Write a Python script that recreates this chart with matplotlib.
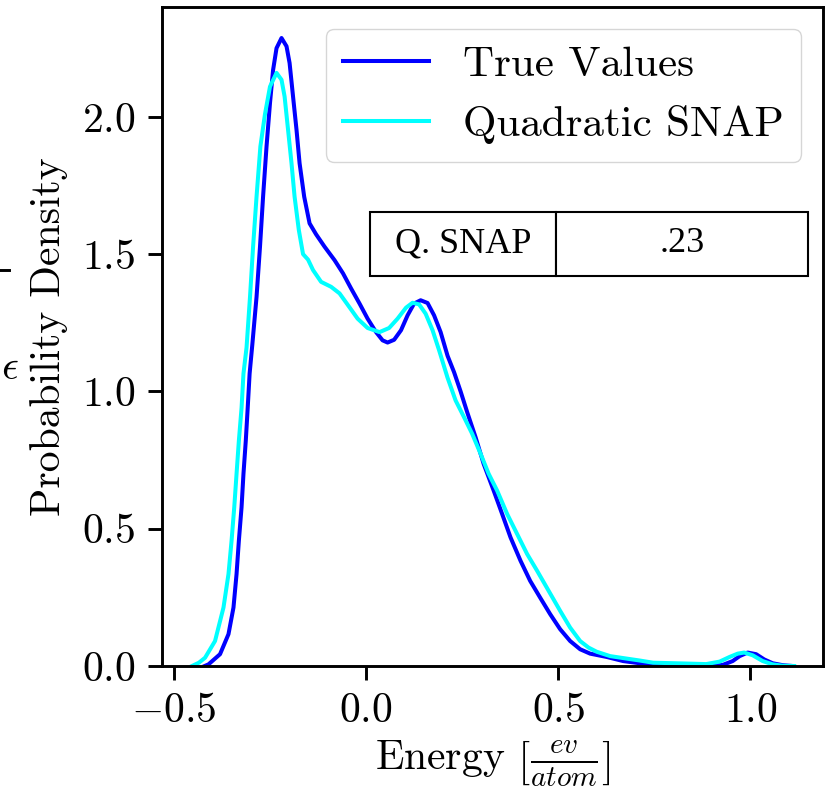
import numpy as np
import matplotlib
matplotlib.use("Agg")
import matplotlib.pyplot as plt
from matplotlib.lines import Line2D
from matplotlib import font_manager as fm

plt.rcParams['font.family'] = 'serif'
plt.rcParams['font.serif'] = ['cmr10']
plt.rcParams['mathtext.fontset'] = 'cm'
plt.rcParams['axes.formatter.use_mathtext'] = True
plt.rcParams['axes.unicode_minus'] = True

# KDE curves (energy in ev/atom, density)
true_x = [-0.42, -0.41, -0.38, -0.358, -0.345, -0.337, -0.331, -0.324, -0.319, -0.313,
          -0.308, -0.303, -0.296, -0.285, -0.276, -0.268, -0.259, -0.25, -0.242, -0.233,
          -0.22, -0.207, -0.199, -0.19, -0.181, -0.173, -0.161, -0.147, -0.13, -0.108,
          -0.082, -0.06, -0.039, -0.017, 0.004, 0.026, 0.043, 0.056, 0.073, 0.091,
          0.108, 0.125, 0.142, 0.16, 0.177, 0.194, 0.212, 0.229, 0.246, 0.263,
          0.285, 0.306, 0.332, 0.354, 0.376, 0.402, 0.427, 0.453, 0.479, 0.505,
          0.531, 0.557, 0.583, 0.626, 0.669, 0.712, 0.747, 0.833, 0.902, 0.928,
          0.954, 0.972, 0.993, 1.015, 1.036, 1.058, 1.084, 1.11]
true_y = [0.0, 0.006, 0.043, 0.116, 0.213, 0.335, 0.456, 0.578, 0.70, 0.82,
          0.94, 1.065, 1.17, 1.344, 1.527, 1.709, 1.892, 2.05, 2.17, 2.25,
          2.287, 2.257, 2.196, 2.074, 1.953, 1.831, 1.709, 1.612, 1.572, 1.527,
          1.478, 1.43, 1.375, 1.32, 1.265, 1.216, 1.186, 1.178, 1.188, 1.223,
          1.277, 1.32, 1.332, 1.322, 1.277, 1.216, 1.13, 1.07, 1.0, 0.925,
          0.833, 0.736, 0.639, 0.554, 0.468, 0.383, 0.31, 0.249, 0.189, 0.134,
          0.091, 0.061, 0.045, 0.033, 0.018, 0.01, 0.008, 0.005, 0.001, 0.004,
          0.018, 0.036, 0.049, 0.043, 0.024, 0.01, 0.003, 0.0]

snap_x = [-0.453, -0.435, -0.419, -0.393, -0.371, -0.358, -0.35, -0.343, -0.337, -0.331,
          -0.324, -0.319, -0.311, -0.302, -0.294, -0.285, -0.275, -0.263, -0.25, -0.233,
          -0.22, -0.212, -0.203, -0.194, -0.186, -0.175, -0.164, -0.151, -0.138, -0.117,
          -0.091, -0.069, -0.047, -0.022, 0.004, 0.035, 0.06, 0.082, 0.104, 0.121,
          0.138, 0.155, 0.173, 0.19, 0.212, 0.233, 0.255, 0.276, 0.298, 0.319,
          0.341, 0.367, 0.393, 0.419, 0.445, 0.475, 0.505, 0.531, 0.557, 0.579,
          0.6, 0.635, 0.678, 0.712, 0.747, 0.833, 0.885, 0.92, 0.946, 0.967,
          0.984, 1.006, 1.032, 1.058, 1.084, 1.114]
snap_y = [0.0, 0.012, 0.03, 0.091, 0.213, 0.335, 0.456, 0.578, 0.70, 0.82,
          0.94, 1.065, 1.16, 1.344, 1.527, 1.709, 1.892, 2.01, 2.11, 2.16,
          2.135, 2.074, 1.953, 1.831, 1.709, 1.588, 1.5, 1.48, 1.442, 1.399,
          1.381, 1.357, 1.314, 1.265, 1.231, 1.216, 1.231, 1.265, 1.305, 1.323,
          1.317, 1.283, 1.223, 1.15, 1.05, 0.967, 0.906, 0.846, 0.773, 0.70,
          0.639, 0.554, 0.481, 0.408, 0.347, 0.274, 0.201, 0.14, 0.091, 0.067,
          0.052, 0.036, 0.027, 0.02, 0.012, 0.009, 0.007, 0.016, 0.033, 0.045,
          0.049, 0.039, 0.018, 0.006, 0.001, 0.0]

table_labels = ['Q. SNAP', '.23']

fs = 30

fig = plt.figure(figsize=(8.25, 7.93), dpi=100)
ax = fig.add_axes([162/825, 1 - 666/793, (823 - 162)/825, (666 - 7)/793])

ax.plot(true_x, true_y, color='blue', lw=2.9, label='True Values')
ax.plot(snap_x, snap_y, color='cyan', lw=2.9, label='Quadratic SNAP')

ax.set_xlim(-0.531, 1.189)
ax.set_ylim(0, 2.40)
ax.set_xticks([-0.5, 0.0, 0.5, 1.0])
ax.set_yticks([0.0, 0.5, 1.0, 1.5, 2.0])
ax.tick_params(labelsize=fs, length=10, width=2.1, pad=9)
for s in ax.spines.values():
    s.set_linewidth(2.1)

ax.set_xlabel(r'Energy $\left[\frac{ev}{atom}\right]$', fontsize=fs, labelpad=6)
ax.set_ylabel('Probability Density', fontsize=fs, labelpad=10)

ax.legend(loc='upper right', fontsize=31)

# score table, Times-like font
times = fm.FontProperties(fname=fm.findfont(fm.FontProperties(family='Liberation Serif')), size=26)
tab = ax.table(cellText=[table_labels], cellLoc='center',
               colWidths=[0.425, 0.575],
               bbox=[0.315, 0.592, 0.663, 0.097])
tab.auto_set_font_size(False)
for cell in tab.get_celld().values():
    cell.set_linewidth(1.5)
    cell.get_text().set_fontproperties(times)

# bits of the neighbouring panel showing at the left edge
fig.add_artist(Line2D([0, 9/825], [1 - 270/793, 1 - 270/793], color='black', lw=2.1))
fig.text(1/825, 1 - 368/793, r'$\epsilon$', fontsize=fs, ha='left', va='center')

fig.savefig('out.png', dpi=100)
